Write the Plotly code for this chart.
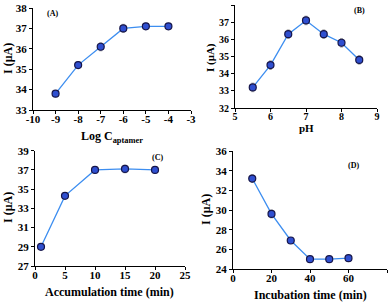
import plotly.graph_objects as go

# Panel A
a_x = [-9, -8, -7, -6, -5, -4]
a_y = [33.8, 35.2, 36.1, 37.0, 37.1, 37.1]
a_err = [0.15, 0.15, 0.2, 0.2, 0.15, 0.1]
a_xticks = [-10, -9, -8, -7, -6, -5, -4, -3]
a_xlabels = ["-10", "-9", "-8", "-7", "-6", "-5", "-4", "-3"]
# Panel B
b_x = [5.5, 6, 6.5, 7, 7.5, 8, 8.5]
b_y = [33.2, 34.5, 36.3, 37.1, 36.3, 35.8, 34.8]
b_err = [0.25, 0.25, 0.25, 0.25, 0.25, 0.25, 0.25]
# Panel C
c_x = [1, 5, 10, 15, 20]
c_y = [29.0, 34.3, 37.0, 37.1, 37.0]
c_err = [0.2, 0.2, 0.2, 0.4, 0.2]
# Panel D
d_x = [10, 20, 30, 40, 50, 60]
d_y = [33.2, 29.6, 26.9, 25.0, 25.0, 25.1]
d_err = [0.4, 0.4, 0.3, 0.3, 0.3, 0.3]

W, H = 392, 302
FONT = "Liberation Serif"
LINE = "#3d8ef0"
FILL = "#2f4fd0"
EDGE = "#15154a"

fig = go.Figure()
panels = [
    (a_x, a_y, a_err, "x", "y"),
    (b_x, b_y, b_err, "x2", "y2"),
    (c_x, c_y, c_err, "x3", "y3"),
    (d_x, d_y, d_err, "x4", "y4"),
]
for xs, ys, es, xa, ya in panels:
    fig.add_trace(go.Scatter(
        x=xs, y=ys, xaxis=xa, yaxis=ya, mode="lines+markers",
        line=dict(color=LINE, width=1.3),
        marker=dict(size=7, color=FILL, line=dict(color=EDGE, width=1.2)),
        error_y=dict(type="data", array=es, color="#aaaaaa", thickness=1, width=1.5),
        showlegend=False, cliponaxis=False, hoverinfo="skip",
    ))

def px_x(p):
    return p / W

def px_y(p):
    return 1 - p / H

def ax(domain, rng, dtick, tick0, fs=11):
    return dict(domain=domain, range=rng, dtick=dtick, tick0=tick0,
                showline=True, linecolor="black", linewidth=1,
                ticks="outside", ticklen=3, tickcolor="black",
                showgrid=False, zeroline=False,
                tickfont=dict(family=FONT, size=fs, color="black", weight="bold"),
                fixedrange=True, automargin=False)

layout = dict(
    width=W, height=H, autosize=False,
    margin=dict(l=0, r=0, t=0, b=0),
    paper_bgcolor="white", plot_bgcolor="white",
    hovermode=False,
    xaxis=ax([px_x(33), px_x(191)], [-10, -3], 1, -10),
    yaxis=ax([px_y(110), px_y(8)], [33, 38], 1, 33),
    xaxis2=ax([px_x(235), px_x(377)], [5, 9], 1, 5, 10),
    yaxis2=ax([px_y(108), px_y(5)], [32, 38], 1, 32, 10),
    xaxis3=ax([px_x(35), px_x(185)], [0, 25], 5, 0),
    yaxis3=ax([px_y(266), px_y(150.7)], [27, 39], 2, 27),
    xaxis4=ax([px_x(233), px_x(387)], [0, 80], 20, 0),
    yaxis4=ax([px_y(269), px_y(151)], [24, 36], 2, 24),
)
layout["xaxis"].update(tickmode="array", tickvals=a_xticks, ticktext=a_xlabels)
for s in ["", "2", "3", "4"]:
    layout["xaxis" + s]["anchor"] = "y" + s
    layout["yaxis" + s]["anchor"] = "x" + s
    layout["xaxis" + s]["ticklabelstandoff"] = -4
fig.update_layout(**layout)

annots = [
    ("Log C<sub>aptamer</sub>", 112, 137, 0, 12),
    ("pH", 306, 128, 0, 11),
    ("Accumulation time (min)", 110, 292, 0, 12),
    ("Incubation time (min)", 310, 295, 0, 12),
    ("I (μA)", 8, 59, -90, 12),
    ("I (μA)", 211, 57, -90, 11),
    ("I (μA)", 8, 208, -90, 12),
    ("I (μA)", 206, 210, -90, 12),
]
for text, x, y, ang, fs in annots:
    fig.add_annotation(text=text, x=px_x(x), y=px_y(y), xref="paper", yref="paper",
                       showarrow=False, textangle=ang,
                       font=dict(family=FONT, size=fs, color="black", weight="bold"),
                       xanchor="center", yanchor="middle")

lf = dict(family=FONT, size=8, color="black", weight="bold")
for text, x, y in [("(A)", 52, 13), ("(B)", 359, 11), ("(C)", 157, 157), ("(D)", 353, 165)]:
    fig.add_annotation(text=text, x=px_x(x), y=px_y(y), xref="paper", yref="paper",
                       showarrow=False, font=lf, xanchor="center", yanchor="middle")

fig.write_html("out.html", config={"displayModeBar": False, "staticPlot": True},
               post_script="document.body.style.margin='0';document.body.style.padding='0';")
